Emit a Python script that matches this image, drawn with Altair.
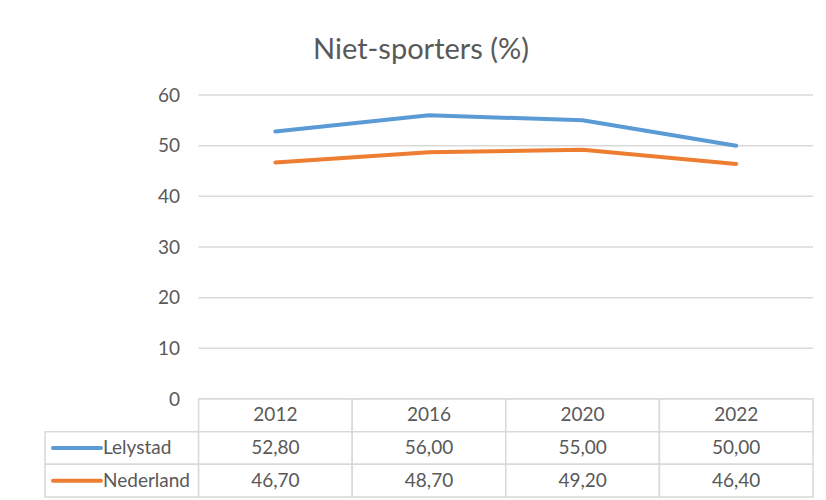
import altair as alt
import pandas as pd

# ---- data ----
years = ["2012", "2016", "2020", "2022"]
series = ["Lelystad", "Nederland"]
lelystad = [52.8, 56.0, 55.0, 50.0]
nederland = [46.7, 48.7, 49.2, 46.4]
y_ticks = [0, 10, 20, 30, 40, 50, 60]
colors = ["#5B9BD5", "#ED7D31"]

FONT = "Lato"
TXT = "#595959"
GRID = "#D9D9D9"
W = 768

values = {"Lelystad": lelystad, "Nederland": nederland}

line_df = pd.DataFrame(
    [
        {"series": s, "year": y, "pos": i + 0.5, "value": values[s][i]}
        for s in series
        for i, y in enumerate(years)
    ]
)
grid_df = pd.DataFrame({"tick": y_ticks})

cells = []
for i, y in enumerate(years):
    cells.append({"row": "header", "x0": i, "x1": i + 1, "xc": i + 0.5, "label": y, "series": ""})
for s in series:
    cells.append({"row": s, "x0": -1, "x1": 0, "xc": -1, "label": s, "series": s})
    for i, y in enumerate(years):
        cells.append(
            {
                "row": s,
                "x0": i,
                "x1": i + 1,
                "xc": i + 0.5,
                "label": f"{values[s][i]:.2f}".replace(".", ","),
                "series": s,
            }
        )
cell_df = pd.DataFrame(cells)

xscale = alt.Scale(domain=[-1, 4], nice=False, zero=False)
color_scale = alt.Scale(domain=series, range=colors)

# ---- line chart ----
yscale = alt.Scale(domain=[0, 60], nice=False)

gridlines = (
    alt.Chart(grid_df)
    .mark_rule(color=GRID, strokeWidth=1.5)
    .encode(
        y=alt.Y(
            "tick:Q",
            scale=yscale,
            axis=alt.Axis(
                values=y_ticks,
                grid=False,
                domain=False,
                ticks=False,
                title=None,
                labelFont=FONT,
                labelFontSize=19,
                labelColor=TXT,
                offset=-153.6,
                labelPadding=19,
            ),
        ),
        x=alt.datum(0, scale=xscale, axis=None),
        x2=alt.datum(4),
    )
)

lines = (
    alt.Chart(line_df)
    .mark_line(strokeWidth=4, strokeCap="round", strokeJoin="round")
    .encode(
        x=alt.X("pos:Q", scale=xscale, axis=None),
        y=alt.Y("value:Q", scale=yscale),
        color=alt.Color("series:N", scale=color_scale, legend=None),
        detail="series:N",
    )
)

top = alt.layer(gridlines, lines).properties(
    width=W,
    height=304,
    title=alt.TitleParams(
        "Niet-sporters (%)",
        font=FONT,
        fontSize=29,
        fontWeight="normal",
        color=TXT,
        anchor="middle",
        dx=-8,
        offset=21,
    ),
)

# ---- data table ----
row_scale = alt.Scale(domain=["header"] + series, paddingInner=0, paddingOuter=0)

base = alt.Chart(cell_df)

rects = base.mark_rect(fill="white", stroke=GRID, strokeWidth=1.5).encode(
    x=alt.X("x0:Q", scale=xscale, axis=None),
    x2="x1:Q",
    y=alt.Y("row:N", scale=row_scale, axis=None),
)

centre_text = (
    base.transform_filter("datum.x0 >= 0")
    .mark_text(font=FONT, fontSize=19, color=TXT, align="center", baseline="middle")
    .encode(
        x=alt.X("xc:Q", scale=xscale, axis=None),
        y=alt.Y("row:N", scale=row_scale, axis=None),
        text="label:N",
    )
)

name_text = (
    base.transform_filter("datum.x0 < 0")
    .mark_text(font=FONT, fontSize=19, color=TXT, align="left", baseline="middle", dx=58)
    .encode(
        x=alt.X("x0:Q", scale=xscale, axis=None),
        y=alt.Y("row:N", scale=row_scale, axis=None),
        text="label:N",
    )
)

swatches = (
    base.transform_filter("datum.x0 < 0")
    .mark_point(shape="stroke", size=48 * 48, strokeWidth=4, filled=False, opacity=1, strokeCap="round", xOffset=32)
    .encode(
        x=alt.X("x0:Q", scale=xscale, axis=None),
        y=alt.Y("row:N", scale=row_scale, axis=None),
        color=alt.Color("series:N", scale=color_scale, legend=None),
    )
)

table = alt.layer(rects, centre_text, name_text, swatches).properties(width=W, height=98)

chart = (
    alt.vconcat(top, table, spacing=0, bounds="flush")
    .properties(padding={"left": 36, "top": 28, "right": 4, "bottom": 0}, background="white")
    .configure_view(strokeWidth=0)
)

chart.save("out.html", embed_options={"renderer": "svg", "actions": False})
